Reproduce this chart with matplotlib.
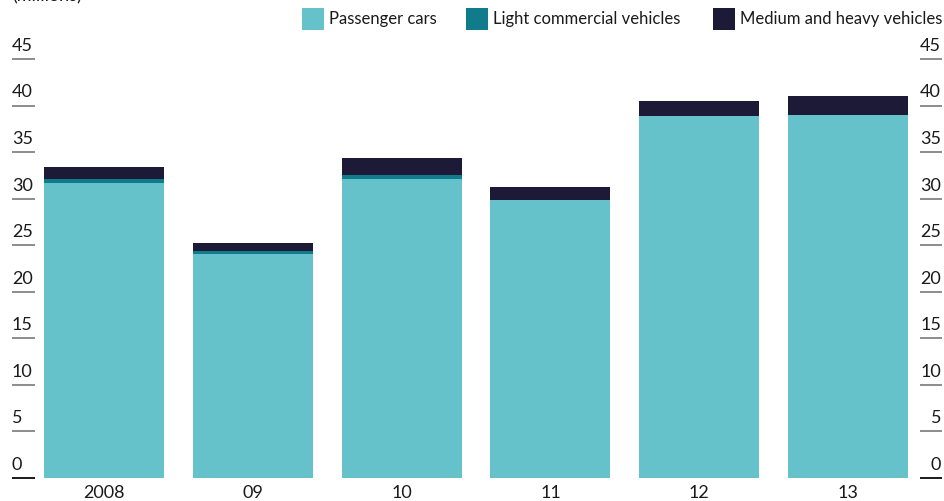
import matplotlib.pyplot as plt
from matplotlib.patches import Rectangle

# data (millions of vehicles)
years = ["2008", "09", "10", "11", "12", "13"]
passenger = [31.7, 24.05, 32.1, 29.85, 38.9, 39.0]
light_comm = [0.4, 0.35, 0.4, 0.0, 0.0, 0.0]
heavy = [1.3, 0.85, 1.9, 1.4, 1.6, 2.05]
yticks = [0, 5, 10, 15, 20, 25, 30, 35, 40, 45]

c_pass = "#66c2ca"
c_lcv = "#0f7b8b"
c_heavy = "#1c1a37"

plt.rcParams["font.family"] = ["Lato", "DejaVu Sans"]
FS = 13

W, H = 945, 501
fig = plt.figure(figsize=(W / 100, H / 100), dpi=100)

# axes spans the full width; y=0 at px 478, y=45 at px 59
ax = fig.add_axes([0, (H - 478) / H, 1, (478 - 59) / H])
step = 148.8
x0 = 104
ax.set_xlim(-x0 / step, (W - x0) / step)
ax.set_ylim(0, 45)
ax.axis("off")

x = range(len(years))
width = 120 / step
bottom2 = [p + l for p, l in zip(passenger, light_comm)]
ax.bar(x, passenger, width=width, color=c_pass, linewidth=0)
ax.bar(x, light_comm, width=width, bottom=passenger, color=c_lcv, linewidth=0)
ax.bar(x, heavy, width=width, bottom=bottom2, color=c_heavy, linewidth=0)

# y tick lines with labels sitting above them, both sides
def px(v):
    return (v - x0) / step

for t in yticks:
    col = "#1a1a1a" if t == 0 else "#8c8c8c"
    ax.plot([px(12), px(35)], [t, t], color=col, lw=1.4, solid_capstyle="butt", clip_on=False)
    ax.plot([px(920), px(942)], [t, t], color=col, lw=1.4, solid_capstyle="butt", clip_on=False)
    ax.text(px(12), t + 0.55, str(t), ha="left", va="bottom", fontsize=FS, color="#1a1a1a")
    ax.text(px(941), t + 0.55, str(t), ha="right", va="bottom", fontsize=FS, color="#1a1a1a")

for i, y in enumerate(years):
    ax.text(i, -0.8, y, ha="center", va="top", fontsize=FS, color="#1a1a1a")

# legend at top
items = [(302, "Passenger cars", c_pass),
         (466, "Light commercial vehicles", c_lcv),
         (713, "Medium and heavy vehicles", c_heavy)]
for xs, label, col in items:
    fig.patches.append(Rectangle((xs / W, (H - 30) / H), 22 / W, 22 / H,
                                 transform=fig.transFigure, color=col, linewidth=0))
    fig.text((xs + 27) / W, (H - 19) / H, label, ha="left", va="center",
             fontsize=12, color="#1a1a1a")

# unit label, cut off at the top edge as in the original
fig.text(12 / W, (H - 1) / H, "(millions)", ha="left", va="baseline", fontsize=FS, color="#1a1a1a")

fig.savefig("out.png", dpi=100)
